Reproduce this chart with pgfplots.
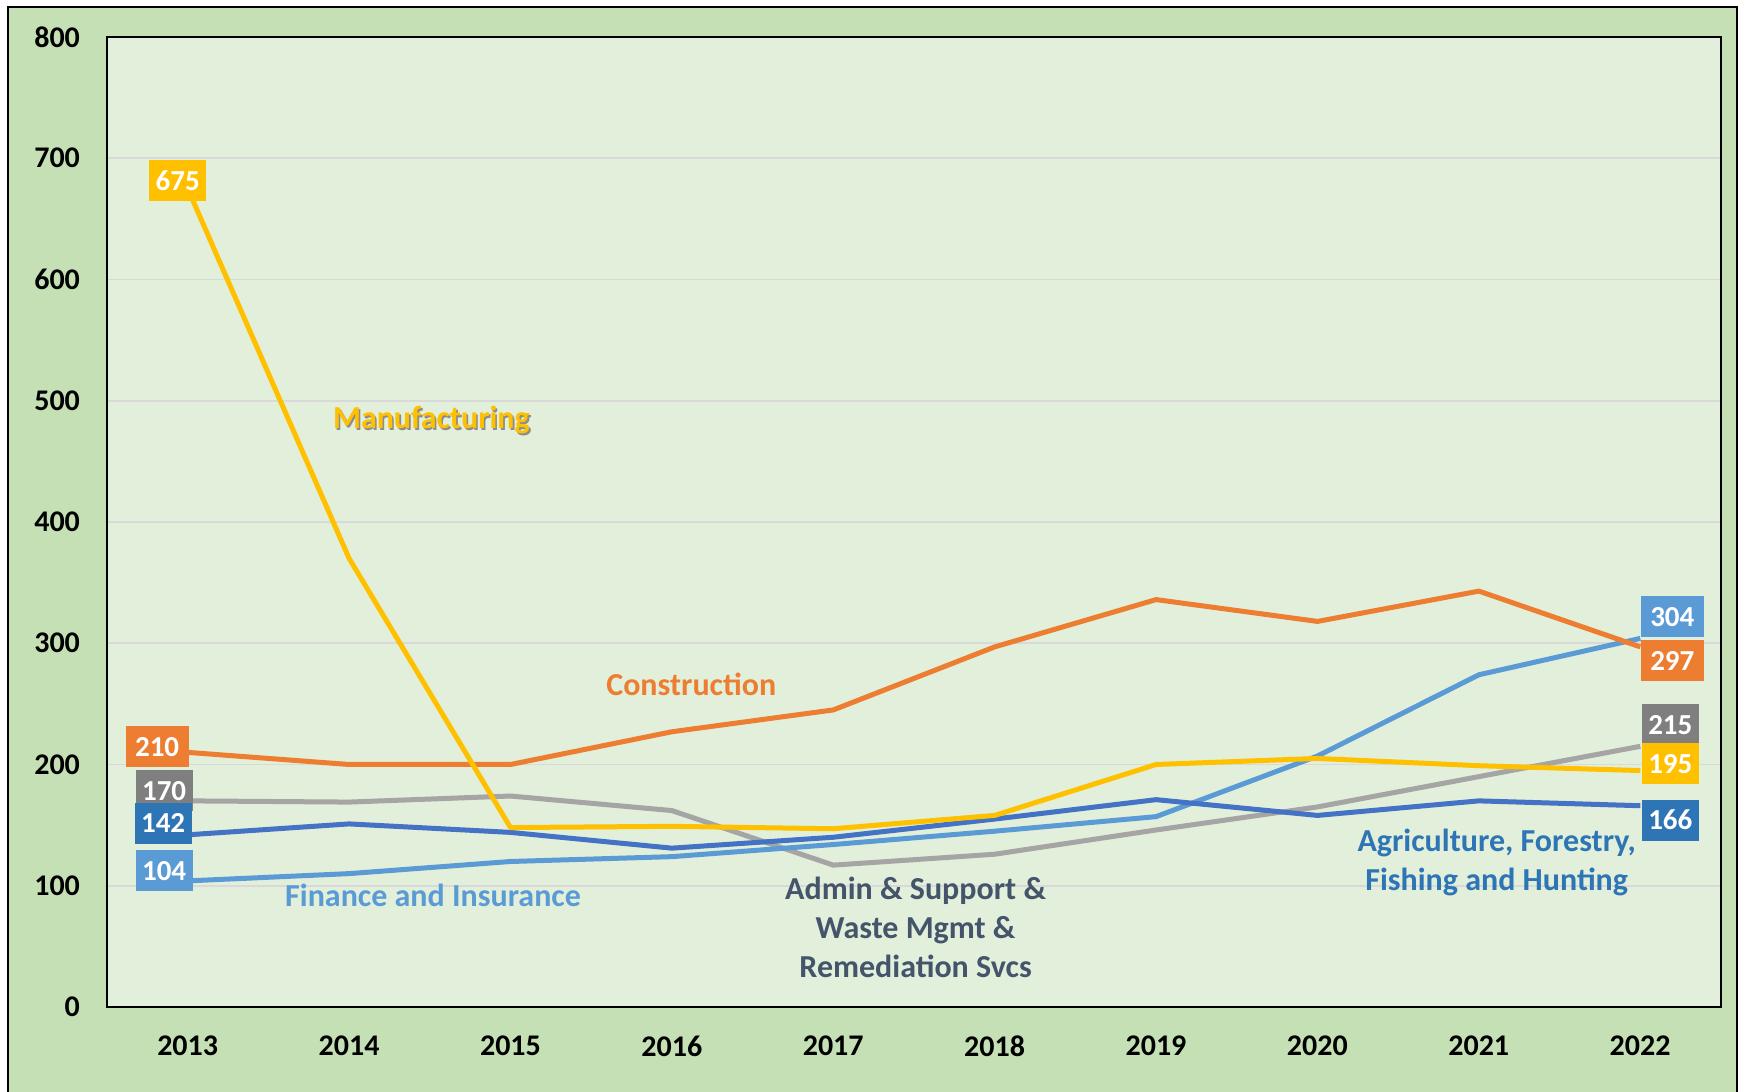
\documentclass[border=0pt]{standalone}
\usepackage{pgfplots}
\pgfplotsset{compat=1.18}
\usepackage{fontspec}
\setmainfont{Carlito}

\definecolor{outerbg}{HTML}{C5E0B4}
\definecolor{plotbg}{HTML}{E2EFDA}
\definecolor{gridc}{HTML}{D9D9D9}
\definecolor{manuf}{HTML}{FFC000}
\definecolor{constr}{HTML}{ED7D31}
\definecolor{finance}{HTML}{5B9BD5}
\definecolor{admin}{HTML}{A5A5A5}
\definecolor{admindark}{HTML}{7F7F7F}
\definecolor{agri}{HTML}{4472C4}
\definecolor{agridark}{HTML}{2E75B6}
\definecolor{admintext}{HTML}{44546A}

\newcommand{\tickfont}{\fontsize{15}{18}\selectfont\bfseries}
\newcommand{\boxfont}{\fontsize{14.5}{17}\selectfont\bfseries}
\newcommand{\serfont}{\fontsize{16}{19.5}\selectfont\bfseries}

\tikzset{
  vbox/.style={fill=#1, text=white, font=\boxfont, inner sep=0pt,
    minimum width=28.5pt, minimum height=20.5pt},
}

\begin{document}
\begin{tikzpicture}
  % page: 1741 x 1092 px at 0.5pt per px, axis lower left at px (107,1007)
  \useasboundingbox (-53.5pt,-42.5pt) rectangle (817pt,503.5pt);
  \fill[outerbg] (-49.5pt,-43pt) rectangle (815pt,500pt);
  \draw[black, line width=1.2pt] (-49.5pt,-44pt) -- (-49.5pt,500pt) -- (815pt,500pt) -- (815pt,-44pt);

  \begin{axis}[
    at={(0,0)}, anchor=south west,
    scale only axis,
    width=807pt, height=485pt,
    xmin=2012.5, xmax=2022.5,
    ymin=0, ymax=800,
    xtick={2013,2014,...,2022},
    ytick={0,100,...,800},
    major tick length=0pt,
    axis background/.style={fill=plotbg},
    axis line style={black, line width=0.8pt},
    ymajorgrids,
    grid style={gridc, line width=0.8pt},
    /pgf/number format/1000 sep={},
    /pgf/number format/assume math mode=true,
    ticklabel style={font=\tickfont},
    yticklabel style={xshift=-10pt},
    xticklabel style={yshift=-11pt},
    every axis plot/.append style={line width=2.5pt, mark=none, line join=round},
    clip=false,
  ]

    % Admin & Support & Waste Mgmt & Remediation Svcs
    \addplot[admin] coordinates {
      (2013,170) (2014,169) (2015,174) (2016,162) (2017,117)
      (2018,126) (2019,146) (2020,165) (2021,190) (2022,215)};
    % Finance and Insurance
    \addplot[finance] coordinates {
      (2013,104) (2014,110) (2015,120) (2016,124) (2017,134)
      (2018,145) (2019,157) (2020,207) (2021,274) (2022,304)};
    % Agriculture, Forestry, Fishing and Hunting
    \addplot[agri] coordinates {
      (2013,142) (2014,151) (2015,144) (2016,131) (2017,140)
      (2018,155) (2019,171) (2020,158) (2021,170) (2022,166)};
    % Construction
    \addplot[constr] coordinates {
      (2013,210) (2014,200) (2015,200) (2016,227) (2017,245)
      (2018,297) (2019,336) (2020,318) (2021,343) (2022,297)};
    % Manufacturing
    \addplot[manuf] coordinates {
      (2013,675) (2014,370) (2015,148) (2016,149) (2017,147)
      (2018,158) (2019,200) (2020,205) (2021,199) (2022,195)};

    % value boxes, first year
    \node[vbox=manuf,    xshift=-5pt,    yshift=3.8pt] at (axis cs:2013,675) {675};
    \node[vbox=constr,   xshift=-15.3pt, yshift=2.7pt, minimum width=31.5pt] at (axis cs:2013,210) {210};
    \node[vbox=admindark,xshift=-11.8pt, yshift=5pt]   at (axis cs:2013,170) {170};
    \node[vbox=agridark, xshift=-12.3pt, yshift=5.9pt] at (axis cs:2013,142) {142};
    \node[vbox=finance,  xshift=-11.8pt, yshift=5pt]   at (axis cs:2013,104) {104};

    % value boxes, last year
    \node[vbox=finance,  xshift=16pt, yshift=10.7pt, minimum width=31.5pt] at (axis cs:2022,304) {304};
    \node[vbox=constr,   xshift=16pt, yshift=-7pt,   minimum width=31.5pt] at (axis cs:2022,297) {297};
    \node[vbox=admindark,xshift=15pt, yshift=10.7pt] at (axis cs:2022,215) {215};
    \node[vbox=manuf,    xshift=15pt, yshift=3.3pt]  at (axis cs:2022,195) {195};
    \node[vbox=agridark, xshift=15pt, yshift=-7.2pt] at (axis cs:2022,166) {166};

    % series names
    \node[font=\serfont, text=black!45, xshift=0.8pt, yshift=-0.8pt] at (axis cs:2014.51,484) {Manufacturing};
    \node[font=\serfont, text=manuf] at (axis cs:2014.51,484) {Manufacturing};
    \node[font=\serfont, text=constr] at (axis cs:2016.12,266) {Construction};
    \node[font=\serfont, text=finance] at (axis cs:2014.52,92) {Finance and Insurance};
    \node[font=\serfont, text=admintext, align=center] at (axis cs:2017.51,66)
      {Admin \& Support \&\\Waste Mgmt \&\\Remediation Svcs};
    \node[font=\serfont, text=agridark, align=center] at (axis cs:2021.11,119)
      {Agriculture, Forestry,\\Fishing and Hunting};
  \end{axis}
\end{tikzpicture}
\end{document}
